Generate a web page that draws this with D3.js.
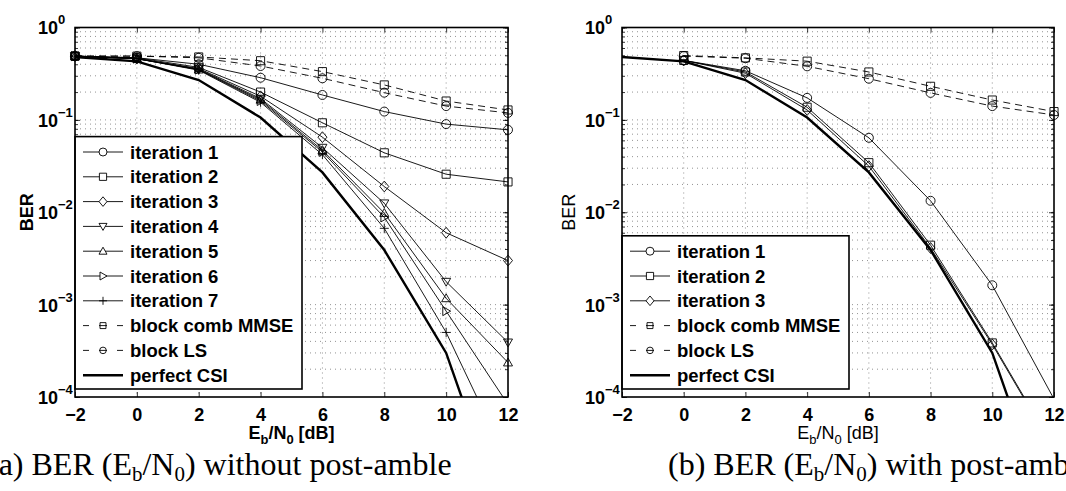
<!DOCTYPE html>
<html>
<head>
<meta charset="utf-8">
<script src="https://cdn.jsdelivr.net/npm/d3@7"></script>
<style>
body { margin: 0; background: #fff; }
svg { display: block; }
text { font-family: "Liberation Sans", Arial, Helvetica, sans-serif; fill: #000; }
.caption { font-family: "Liberation Serif", "Times New Roman", serif; }
</style>
</head>
<body>
<svg id="fig" width="1066" height="491"></svg>
<script>
// Eb/N0 values (dB)
const SNR_A = [-2, 0, 2, 4, 6, 8, 10, 12];
const SNR_B = [0, 2, 4, 6, 8, 10, 12];

// (a) without post-amble
const ITER1_A = [0.49, 0.47, 0.40, 0.286, 0.186, 0.123, 0.090, 0.078];
const ITER2_A = [0.49, 0.47, 0.37, 0.20, 0.093, 0.044, 0.0258, 0.0213];
const ITER3_A = [0.49, 0.46, 0.36, 0.18, 0.065, 0.019, 0.0060, 0.0030];
const ITER4_A = [0.49, 0.46, 0.355, 0.17, 0.050, 0.0125, 0.00177, 0.00039];
const ITER5_A = [0.49, 0.46, 0.35, 0.165, 0.047, 0.0098, 0.00117, 0.000236];
const ITER6_A = [0.49, 0.46, 0.35, 0.16, 0.045, 0.0088, 0.00085, 0.000083];
const ITER7_A = [0.49, 0.46, 0.345, 0.155, 0.042, 0.0067, 0.0005, 0.0000195];
const MMSE_A = [0.49, 0.49, 0.48, 0.437, 0.333, 0.239, 0.16, 0.128];
const LS_A = [0.49, 0.49, 0.47, 0.383, 0.282, 0.197, 0.141, 0.119];
const PERFECT = [0.48, 0.43, 0.27, 0.106, 0.027, 0.0039, 0.0003, 0.0000037];

// (b) with post-amble
const ITER1_B = [0.44, 0.34, 0.173, 0.064, 0.0133, 0.00162, 0.000095];
const ITER2_B = [0.44, 0.33, 0.137, 0.0344, 0.0044, 0.000385, 0.000028];
const ITER3_B = [0.44, 0.32, 0.128, 0.0316, 0.0041, 0.00037, 0.000027];
const MMSE_B = [0.497, 0.469, 0.432, 0.33, 0.231, 0.164, 0.123];
const LS_B = [0.49, 0.465, 0.38, 0.279, 0.196, 0.141, 0.113];

const X_TICKS = [-2, 0, 2, 4, 6, 8, 10, 12];
const Y_DECADES = [1e-4, 1e-3, 1e-2, 1e-1, 1];

const TOP = 27.5, BOTTOM = 397;

const PANELS = [
  {
    left: 75, right: 508, bold: true, yLabelGap: 42,
    caption: ['(a) BER (E', 'b', '/N', '0', ') without post-amble'], capX: -12,
    series: [
      { label: 'iteration 1', xs: SNR_A, ys: ITER1_A, marker: 'circle', kind: 'solid' },
      { label: 'iteration 2', xs: SNR_A, ys: ITER2_A, marker: 'square', kind: 'solid' },
      { label: 'iteration 3', xs: SNR_A, ys: ITER3_A, marker: 'diamond', kind: 'solid' },
      { label: 'iteration 4', xs: SNR_A, ys: ITER4_A, marker: 'tridown', kind: 'solid' },
      { label: 'iteration 5', xs: SNR_A, ys: ITER5_A, marker: 'triup', kind: 'solid' },
      { label: 'iteration 6', xs: SNR_A, ys: ITER6_A, marker: 'triright', kind: 'solid' },
      { label: 'iteration 7', xs: SNR_A, ys: ITER7_A, marker: 'plus', kind: 'solid' },
      { label: 'block comb MMSE', xs: SNR_A, ys: MMSE_A, marker: 'square', kind: 'dash' },
      { label: 'block LS', xs: SNR_A, ys: LS_A, marker: 'circle', kind: 'dash' },
      { label: 'perfect CSI', xs: SNR_A, ys: PERFECT, marker: null, kind: 'thick' }
    ]
  },
  {
    left: 622, right: 1054, bold: false, yLabelGap: 47,
    caption: ['(b) BER (E', 'b', '/N', '0', ') with post-amble'], capX: 668,
    series: [
      { label: 'iteration 1', xs: SNR_B, ys: ITER1_B, marker: 'circle', kind: 'solid' },
      { label: 'iteration 2', xs: SNR_B, ys: ITER2_B, marker: 'square', kind: 'solid' },
      { label: 'iteration 3', xs: SNR_B, ys: ITER3_B, marker: 'diamond', kind: 'solid' },
      { label: 'block comb MMSE', xs: SNR_B, ys: MMSE_B, marker: 'square', kind: 'dash' },
      { label: 'block LS', xs: SNR_B, ys: LS_B, marker: 'circle', kind: 'dash' },
      { label: 'perfect CSI', xs: SNR_A, ys: PERFECT, marker: null, kind: 'thick' }
    ]
  }
];

const SVG = d3.select('#fig');
SVG.append('rect').attr('width', 1066).attr('height', 491).attr('fill', '#fff');

// marker outline centred on 0,0
function markerPath(type, s) {
  switch (type) {
    case 'circle': return d3.symbol(d3.symbolCircle, Math.PI * s * s)();
    case 'square': return `M${-s * 0.9},${-s * 0.9}H${s * 0.9}V${s * 0.9}H${-s * 0.9}Z`;
    case 'diamond': return `M0,${-s * 1.2}L${s},0L0,${s * 1.2}L${-s},0Z`;
    case 'tridown': return `M${-s},${-s * 0.75}L${s},${-s * 0.75}L0,${s}Z`;
    case 'triup': return `M${-s},${s * 0.75}L${s},${s * 0.75}L0,${-s}Z`;
    case 'triright': return `M${-s * 0.75},${-s}L${-s * 0.75},${s}L${s},0Z`;
    case 'plus': return `M${-s},0H${s}M0,${-s}V${s}`;
  }
  return '';
}

function styleLine(sel, kind) {
  sel.attr('fill', 'none').attr('stroke', '#000')
    .attr('stroke-width', kind === 'thick' ? 2.4 : 0.9)
    .attr('stroke-dasharray', kind === 'dash' ? '7,5' : null);
}

function drawPanel(p, idx) {
  const x = d3.scaleLinear().domain([-2, 12]).range([p.left, p.right]);
  const y = d3.scaleLog().domain([1e-4, 1]).range([BOTTOM, TOP]);
  const weight = p.bold ? 'bold' : 'normal';
  const g = SVG.append('g');

  g.append('clipPath').attr('id', 'clip' + idx)
    .append('rect')
    .attr('x', p.left).attr('y', TOP)
    .attr('width', p.right - p.left).attr('height', BOTTOM - TOP);

  // dotted grid
  const grid = g.append('g').attr('stroke', '#777').attr('stroke-width', 0.8).attr('stroke-dasharray', '1,4');
  grid.selectAll('.vx').data(X_TICKS.slice(1, -1)).join('line')
    .attr('x1', d => x(d)).attr('x2', d => x(d))
    .attr('y1', TOP).attr('y2', BOTTOM);
  grid.selectAll('.hy').data(y.ticks().filter(v => v > 1e-4 && v < 1)).join('line')
    .attr('y1', d => y(d)).attr('y2', d => y(d))
    .attr('x1', p.left).attr('x2', p.right);

  // curves
  const line = d3.line().x(d => x(d[0])).y(d => y(d[1]));
  const curves = g.append('g').attr('clip-path', `url(#clip${idx})`);
  p.series.forEach(s => {
    curves.append('path')
      .datum(d3.zip(s.xs, s.ys))
      .attr('d', line)
      .call(styleLine, s.kind);
  });

  // markers (not clipped, only inside the y range)
  p.series.filter(s => s.marker).forEach(s => {
    g.append('g').selectAll('path')
      .data(d3.zip(s.xs, s.ys).filter(d => d[1] >= 1e-4))
      .join('path')
      .attr('transform', d => `translate(${x(d[0])},${y(d[1])})`)
      .attr('d', markerPath(s.marker, 4.5))
      .attr('fill', 'none').attr('stroke', '#000').attr('stroke-width', 0.9);
  });

  // ticks on all four sides, pointing inward
  g.append('g').attr('transform', `translate(0,${BOTTOM})`)
    .call(d3.axisBottom(x).tickValues(X_TICKS).tickSizeInner(-5).tickSizeOuter(0).tickPadding(11)
      .tickFormat(d => d < 0 ? '\u2212' + Math.abs(d) : d))
    .call(a => a.select('.domain').remove())
    .call(a => a.selectAll('text').attr('font-size', 18).attr('font-weight', 'bold'));
  g.append('g').attr('transform', `translate(0,${TOP})`)
    .call(d3.axisTop(x).tickValues(X_TICKS).tickSizeInner(-5).tickSizeOuter(0).tickFormat(''))
    .call(a => a.select('.domain').remove());

  const yLeft = g.append('g').attr('transform', `translate(${p.left},0)`)
    .call(d3.axisLeft(y).tickValues(Y_DECADES).tickSizeInner(-5).tickSizeOuter(0))
    .call(a => a.select('.domain').remove());
  yLeft.selectAll('.tick text').each(function (d) {
    const e = Math.round(Math.log10(d));
    const t = d3.select(this).text(null)
      .attr('text-anchor', 'start').attr('x', -37).attr('dy', '0.36em')
      .attr('font-size', 18).attr('font-weight', 'bold');
    t.append('tspan').text('10');
    t.append('tspan').attr('font-size', 13).attr('dy', -10).text(e < 0 ? '\u2212' + Math.abs(e) : e);
  });
  g.append('g').attr('transform', `translate(${p.left},0)`)
    .call(d3.axisLeft(y).tickValues(y.ticks()).tickSizeInner(-3).tickSizeOuter(0).tickFormat(''))
    .call(a => a.select('.domain').remove());
  g.append('g').attr('transform', `translate(${p.right},0)`)
    .call(d3.axisRight(y).tickValues(Y_DECADES).tickSizeInner(-5).tickSizeOuter(0).tickFormat(''))
    .call(a => a.select('.domain').remove());
  g.append('g').attr('transform', `translate(${p.right},0)`)
    .call(d3.axisRight(y).tickValues(y.ticks()).tickSizeInner(-3).tickSizeOuter(0).tickFormat(''))
    .call(a => a.select('.domain').remove());
  g.selectAll('.tick line').attr('stroke', '#000').attr('stroke-width', 0.8);

  // legend, sitting on the lower-left corner of the axes
  const rowH = 24.8;
  const legH = p.series.length * rowH + 4.4;
  const legTop = 389 - legH;
  const leg = g.append('g');
  leg.append('rect')
    .attr('x', p.left).attr('y', legTop)
    .attr('width', 227).attr('height', legH)
    .attr('fill', '#fff').attr('stroke', '#000').attr('stroke-width', 1.6);
  p.series.forEach((s, i) => {
    const cy = legTop + 15.4 + i * rowH;
    const row = leg.append('g');
    row.append('line')
      .attr('x1', p.left + 8).attr('x2', p.left + 48)
      .attr('y1', cy).attr('y2', cy)
      .call(styleLine, s.kind)
      .attr('stroke-dasharray', s.kind === 'dash' ? '6,10,8,10,6' : null);
    if (s.marker) {
      row.append('path')
        .attr('transform', `translate(${p.left + 28},${cy})`)
        .attr('d', markerPath(s.marker, s.kind === 'dash' ? 3.3 : 4))
        .attr('fill', s.kind === 'dash' ? 'none' : '#fff')
        .attr('stroke', '#000').attr('stroke-width', 0.9);
    }
    row.append('text')
      .attr('x', p.left + 55).attr('y', cy + 6.5)
      .attr('font-size', 18.5).attr('font-weight', 'bold')
      .text(s.label);
  });

  // axes box
  g.append('rect')
    .attr('x', p.left).attr('y', TOP)
    .attr('width', p.right - p.left).attr('height', BOTTOM - TOP)
    .attr('fill', 'none').attr('stroke', '#000').attr('stroke-width', 1.6);

  // axis labels
  g.append('text')
    .attr('transform', `translate(${p.left - p.yLabelGap},${(TOP + BOTTOM) / 2}) rotate(-90)`)
    .attr('text-anchor', 'middle')
    .attr('font-size', 18).attr('font-weight', weight)
    .text('BER');

  const xl = g.append('text')
    .attr('x', (p.left + p.right) / 2).attr('y', 439)
    .attr('text-anchor', 'middle')
    .attr('font-size', 18).attr('font-weight', weight);
  xl.append('tspan').text('E');
  xl.append('tspan').attr('font-size', 13).attr('dy', 5).text('b');
  xl.append('tspan').attr('dy', -5).text('/N');
  xl.append('tspan').attr('font-size', 13).attr('dy', 5).text('0');
  xl.append('tspan').attr('dy', -5).text(' [dB]');

  // sub-figure caption
  const cap = SVG.append('text').attr('class', 'caption')
    .attr('x', p.capX).attr('y', 475)
    .attr('font-size', 32);
  cap.append('tspan').text(p.caption[0]);
  cap.append('tspan').attr('font-size', 21).attr('dy', 6).text(p.caption[1]);
  cap.append('tspan').attr('dy', -6).text(p.caption[2]);
  cap.append('tspan').attr('font-size', 21).attr('dy', 6).text(p.caption[3]);
  cap.append('tspan').attr('dy', -6).text(p.caption[4]);
}

PANELS.forEach(drawPanel);
</script>
</body>
</html>
